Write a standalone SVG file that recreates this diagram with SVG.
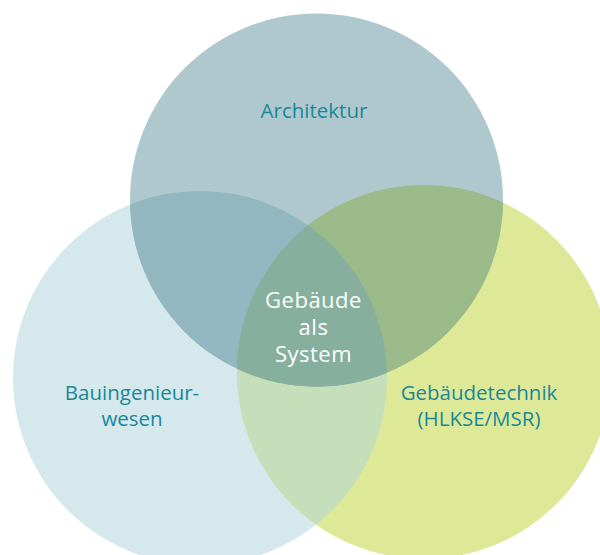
<svg xmlns="http://www.w3.org/2000/svg" width="600" height="555" viewBox="0 0 600 555">
  <style>
    .lbl { font-family: "Open Sans", "Noto Sans", sans-serif; font-size: 20.5px; fill: #1a8799; text-anchor: middle; }
    .ctr { font-family: "Open Sans", "Noto Sans", sans-serif; font-size: 22px; fill: #ffffff; text-anchor: middle; letter-spacing: 0.5px; }
  </style>
  <defs>
    <clipPath id="cL"><circle cx="200" cy="378" r="187"/></clipPath>
    <clipPath id="cR"><circle cx="424" cy="372" r="187"/></clipPath>
  </defs>
  <rect width="600" height="555" fill="#ffffff"/>
  <g id="bauingenieurwesen">
    <circle cx="200" cy="378" r="187" fill="#d5e8ec"/>
  </g>
  <g id="gebaeudetechnik">
    <circle cx="424" cy="372" r="187" fill="#dde996"/>
  </g>
  <g id="architektur">
    <circle cx="316.5" cy="200" r="186.5" fill="#afc8ce"/>
  </g>
  <g id="overlaps">
    <circle cx="424" cy="372" r="187" fill="#c5dfbb" clip-path="url(#cL)"/>
    <circle cx="316.5" cy="200" r="186.5" fill="#92b7c0" clip-path="url(#cL)"/>
    <circle cx="316.5" cy="200" r="186.5" fill="#9bba89" clip-path="url(#cR)"/>
    <g clip-path="url(#cR)">
      <circle cx="316.5" cy="200" r="186.5" fill="#86af9e" clip-path="url(#cL)"/>
    </g>
  </g>
  <g id="labels">
    <text class="lbl" x="314" y="118">Architektur</text>
    <text class="lbl" x="132" y="400">Bauingenieur-</text>
    <text class="lbl" x="132" y="426">wesen</text>
    <text class="lbl" x="479" y="400">Gebäudetechnik</text>
    <text class="lbl" x="479" y="426">(HLKSE/MSR)</text>
  </g>
  <g id="gebaeude-als-system">
    <text class="ctr" x="313.5" y="308">Gebäude</text>
    <text class="ctr" x="313.5" y="335">als</text>
    <text class="ctr" x="313.5" y="362">System</text>
  </g>
</svg>
